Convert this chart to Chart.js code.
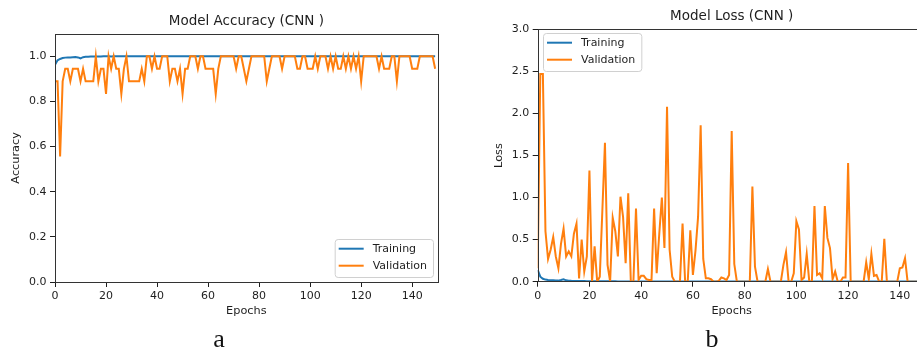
<!DOCTYPE html>
<html>
<head>
<meta charset="utf-8">
<title>CNN training curves</title>
<script src="https://cdn.jsdelivr.net/npm/chart.js@4.4.1/dist/chart.umd.min.js"></script>
<style>
  html, body { margin: 0; padding: 0; background: #fff; overflow: hidden; }
  body { width: 917px; height: 354px; position: relative; }
  canvas { position: absolute; top: 0; }
  #accChart { left: 0; }
  #lossChart { left: 460px; }
  .panel-tag {
    position: absolute; top: 326px; width: 40px; text-align: center;
    font: 26px "Liberation Serif", serif; line-height: 1; color: #111;
  }
</style>
</head>
<body>
<canvas id="accChart" width="460" height="354"></canvas>
<canvas id="lossChart" width="480" height="354"></canvas>
<div class="panel-tag" style="left:199px">a</div>
<div class="panel-tag" style="left:692px">b</div>
<script>
// --- history of the CNN run, one value per epoch ---
const epochs = Array.from({ length: 150 }, (_, i) => i);

const trainAcc = [
    0.962, 0.982, 0.988, 0.992, 0.994, 0.995, 0.995, 0.996, 0.997, 0.995,
    0.991, 0.996, 0.998, 0.998, 0.999, 0.999, 0.999, 0.999, 0.999, 1.0,
    1.0, 1.0, 0.999, 1.0, 1.0, 1.0, 1.0, 1.0, 1.0, 1.0,
    1.0, 1.0, 1.0, 1.0, 1.0, 1.0, 1.0, 1.0, 1.0, 1.0,
    1.0, 1.0, 1.0, 1.0, 1.0, 1.0, 1.0, 1.0, 1.0, 1.0,
    1.0, 1.0, 1.0, 1.0, 1.0, 1.0, 1.0, 1.0, 1.0, 1.0,
    1.0, 1.0, 1.0, 1.0, 1.0, 1.0, 1.0, 1.0, 1.0, 1.0,
    1.0, 1.0, 1.0, 1.0, 1.0, 1.0, 1.0, 1.0, 1.0, 1.0,
    1.0, 1.0, 1.0, 1.0, 1.0, 1.0, 1.0, 1.0, 1.0, 1.0,
    1.0, 1.0, 1.0, 1.0, 1.0, 1.0, 1.0, 1.0, 1.0, 1.0,
    1.0, 1.0, 1.0, 1.0, 1.0, 1.0, 1.0, 1.0, 1.0, 1.0,
    1.0, 1.0, 1.0, 1.0, 1.0, 1.0, 1.0, 1.0, 1.0, 1.0,
    1.0, 1.0, 1.0, 1.0, 1.0, 1.0, 1.0, 1.0, 1.0, 1.0,
    1.0, 1.0, 1.0, 1.0, 1.0, 1.0, 1.0, 1.0, 1.0, 1.0,
    1.0, 1.0, 1.0, 1.0, 1.0, 1.0, 1.0, 1.0, 1.0, 1.0
];

const valAcc = [
    0.8889, 0.8889, 0.5556, 0.8889, 0.9444, 0.9444, 0.8889, 0.9444, 0.9444, 0.9444,
    0.8889, 0.9444, 0.8889, 0.8889, 0.8889, 0.8889, 1.0, 0.8889, 0.9444, 0.9444,
    0.8333, 1.0, 0.9444, 1.0, 0.9444, 0.9444, 0.8333, 0.9444, 1.0, 0.8889,
    0.8889, 0.8889, 0.8889, 0.8889, 0.9444, 0.8889, 1.0, 1.0, 0.9444, 1.0,
    0.9444, 0.9444, 1.0, 1.0, 1.0, 0.8889, 0.9444, 0.9444, 0.8889, 0.9444,
    0.8333, 0.9444, 0.9444, 1.0, 1.0, 1.0, 0.9444, 1.0, 1.0, 0.9444,
    0.9444, 0.9444, 0.9444, 0.8333, 0.9444, 1.0, 1.0, 1.0, 1.0, 1.0,
    1.0, 0.9444, 1.0, 1.0, 0.9444, 0.8889, 0.9444, 1.0, 1.0, 1.0,
    1.0, 1.0, 1.0, 0.8889, 0.9444, 1.0, 1.0, 1.0, 1.0, 0.9444,
    1.0, 1.0, 1.0, 1.0, 1.0, 0.9444, 0.9444, 1.0, 1.0, 0.9444,
    0.9444, 0.9444, 1.0, 0.9444, 1.0, 1.0, 1.0, 0.9444, 1.0, 0.9444,
    1.0, 0.9444, 0.9444, 1.0, 0.9444, 1.0, 0.9444, 1.0, 0.9444, 1.0,
    0.8889, 1.0, 1.0, 1.0, 1.0, 1.0, 1.0, 0.9444, 1.0, 0.9444,
    0.9444, 0.9444, 1.0, 1.0, 0.8889, 1.0, 1.0, 1.0, 1.0, 1.0,
    0.9444, 0.9444, 0.9444, 1.0, 1.0, 1.0, 1.0, 1.0, 1.0, 0.9444
];

const trainLoss = [
    0.140, 0.060, 0.035, 0.025, 0.020, 0.018, 0.016, 0.014, 0.013, 0.020,
    0.028, 0.016, 0.012, 0.010, 0.009, 0.008, 0.008, 0.007, 0.007, 0.006,
    0.006, 0.006, 0.005, 0.005, 0.005, 0.005, 0.004, 0.004, 0.004, 0.004,
    0.004, 0.003, 0.003, 0.003, 0.003, 0.003, 0.003, 0.003, 0.003, 0.003,
    0.003, 0.003, 0.002, 0.002, 0.002, 0.002, 0.002, 0.002, 0.002, 0.002,
    0.002, 0.002, 0.002, 0.002, 0.002, 0.002, 0.002, 0.002, 0.002, 0.002,
    0.002, 0.002, 0.002, 0.002, 0.002, 0.002, 0.001, 0.001, 0.001, 0.001,
    0.001, 0.001, 0.001, 0.001, 0.001, 0.001, 0.001, 0.001, 0.001, 0.001,
    0.001, 0.001, 0.001, 0.001, 0.001, 0.001, 0.001, 0.001, 0.001, 0.001,
    0.001, 0.001, 0.001, 0.001, 0.001, 0.001, 0.001, 0.001, 0.001, 0.001,
    0.001, 0.001, 0.001, 0.001, 0.001, 0.001, 0.001, 0.001, 0.001, 0.001,
    0.001, 0.001, 0.001, 0.001, 0.001, 0.001, 0.001, 0.001, 0.001, 0.001,
    0.001, 0.001, 0.001, 0.001, 0.001, 0.001, 0.001, 0.001, 0.001, 0.001,
    0.001, 0.001, 0.001, 0.001, 0.001, 0.001, 0.001, 0.001, 0.001, 0.001,
    0.001, 0.001, 0.001, 0.001, 0.001, 0.001, 0.001, 0.001, 0.001, 0.001
];

const valLoss = [
    0.16, 2.47, 2.47, 0.60, 0.27, 0.38, 0.53, 0.30, 0.16, 0.45,
    0.63, 0.30, 0.36, 0.30, 0.57, 0.69, 0.04, 0.50, 0.12, 0.30,
    1.32, 0.00, 0.42, 0.00, 0.06, 0.85, 1.65, 0.20, 0.00, 0.76,
    0.60, 0.30, 1.01, 0.77, 0.22, 1.05, 0.00, 0.00, 0.87, 0.02,
    0.07, 0.07, 0.03, 0.02, 0.02, 0.87, 0.10, 0.57, 1.00, 0.40,
    2.08, 0.38, 0.06, 0.00, 0.00, 0.00, 0.69, 0.00, 0.00, 0.61,
    0.08, 0.37, 0.77, 1.86, 0.27, 0.04, 0.04, 0.03, 0.00, 0.00,
    0.01, 0.05, 0.04, 0.02, 0.08, 1.79, 0.21, 0.00, 0.00, 0.00,
    0.00, 0.00, 0.00, 1.13, 0.18, 0.00, 0.00, 0.00, 0.00, 0.15,
    0.00, 0.00, 0.00, 0.00, 0.00, 0.20, 0.35, 0.00, 0.00, 0.10,
    0.72, 0.62, 0.02, 0.05, 0.33, 0.00, 0.00, 0.90, 0.08, 0.10,
    0.04, 0.90, 0.52, 0.40, 0.03, 0.12, 0.00, 0.00, 0.05, 0.05,
    1.41, 0.00, 0.00, 0.00, 0.00, 0.00, 0.00, 0.23, 0.03, 0.33,
    0.07, 0.08, 0.00, 0.00, 0.51, 0.00, 0.00, 0.00, 0.00, 0.00,
    0.16, 0.17, 0.28, 0.00, 0.00, 0.00, 0.00, 0.00, 0.00, 0.00
];

const epochTicks = [0, 20, 40, 60, 80, 100, 120, 140];
const accTicks = [0.0, 0.2, 0.4, 0.6, 0.8, 1.0];
const lossTicks = [0.0, 0.5, 1.0, 1.5, 2.0, 2.5, 3.0];

const BLUE = '#1f77b4';
const ORANGE = '#ff7f0e';
const INK = '#1e1e1e';
const FONT = '"DejaVu Sans", sans-serif';

// box around the plot area (all four spines)
const framePlugin = {
    id: 'frame',
    afterDatasetsDraw(chart) {
        const { ctx, chartArea: a } = chart;
        ctx.save();
        ctx.strokeStyle = '#333';
        ctx.lineWidth = 1;
        ctx.strokeRect(Math.round(a.left) + 0.5, Math.round(a.top) + 0.5,
            Math.round(a.right - a.left), Math.round(a.bottom - a.top));
        ctx.restore();
    }
};

// legend drawn inside the plot, in a corner
const cornerLegend = {
    id: 'cornerLegend',
    afterDraw(chart, args, opts) {
        const { ctx, chartArea: a } = chart;
        const sets = chart.data.datasets;
        ctx.save();
        ctx.font = '11px ' + FONT;
        const textW = Math.max(...sets.map(d => ctx.measureText(d.label).width));
        const w = 4 + 25 + 9 + textW + 6;
        const h = 38;
        const x = opts.corner === 'lower right' ? a.right - 4.7 - w : a.left + 5.3;
        const y = opts.corner === 'lower right' ? a.bottom - 5 - h : a.top + 3.7;

        ctx.beginPath();
        ctx.roundRect(x + 0.5, y + 0.5, w, h, 3);
        ctx.fillStyle = 'rgba(255,255,255,0.8)';
        ctx.fill();
        ctx.strokeStyle = '#d0d0d0';
        ctx.lineWidth = 1;
        ctx.stroke();

        sets.forEach((d, i) => {
            const rowY = y + 9.7 + i * 17;
            ctx.beginPath();
            ctx.moveTo(x + 4, rowY);
            ctx.lineTo(x + 29, rowY);
            ctx.strokeStyle = d.borderColor;
            ctx.lineWidth = 2;
            ctx.stroke();
            ctx.fillStyle = INK;
            ctx.textBaseline = 'middle';
            ctx.fillText(d.label, x + 38, rowY + 0.5);
        });
        ctx.restore();
    }
};

function series(values) {
    return values.map((v, i) => ({ x: epochs[i], y: v }));
}

function buildChart(id, cfg) {
    const ctx = document.getElementById(id);
    return new Chart(ctx, {
        type: 'line',
        data: {
            datasets: [
                { label: 'Training', data: series(cfg.train), borderColor: BLUE, order: 1 },
                { label: 'Validation', data: series(cfg.val), borderColor: ORANGE, order: 0 }
            ]
        },
        options: {
            responsive: false,
            animation: false,
            devicePixelRatio: 1,
            layout: { padding: { left: 0, right: cfg.padRight, top: 0, bottom: 0 } },
            elements: {
                line: { borderWidth: 2, tension: 0, fill: false },
                point: { radius: 0 }
            },
            scales: {
                x: {
                    type: 'linear',
                    min: 0,
                    max: 150,
                    afterBuildTicks: s => { s.ticks = epochTicks.map(v => ({ value: v })); },
                    afterFit: s => { s.height = cfg.xAxisHeight; },
                    grid: { drawOnChartArea: false, drawTicks: true, tickLength: 5, color: INK },
                    border: { display: false },
                    ticks: { color: INK, padding: 3, maxRotation: 0, font: { family: FONT, size: 11 } },
                    title: {
                        display: true,
                        text: 'Epochs',
                        color: INK,
                        font: { family: FONT, size: 11.3 },
                        padding: { top: 0, bottom: cfg.xTitlePad }
                    }
                },
                y: {
                    min: 0,
                    max: cfg.yMax,
                    afterBuildTicks: s => { s.ticks = cfg.yTicks.map(v => ({ value: v })); },
                    afterFit: s => { s.width = cfg.yAxisWidth; },
                    grid: { drawOnChartArea: false, drawTicks: true, tickLength: 5, color: INK },
                    border: { display: false },
                    ticks: {
                        color: INK,
                        padding: 3.5,
                        font: { family: FONT, size: 11 },
                        callback: v => Number(v).toFixed(1)
                    },
                    title: {
                        display: true,
                        text: cfg.yLabel,
                        color: INK,
                        font: { family: FONT, size: 11.3 },
                        padding: { top: cfg.yTitlePad, bottom: 0 }
                    }
                }
            },
            plugins: {
                legend: { display: false },
                tooltip: { enabled: false },
                title: {
                    display: true,
                    text: cfg.title,
                    fullSize: false,
                    color: INK,
                    font: { family: FONT, size: 13.5, weight: 'normal' },
                    padding: cfg.titlePad
                },
                cornerLegend: { corner: cfg.legendCorner }
            }
        },
        plugins: [framePlugin, cornerLegend]
    });
}

buildChart('accChart', {
    title: 'Model Accuracy (CNN )',
    yLabel: 'Accuracy',
    train: trainAcc,
    val: valAcc,
    yMax: 1.1,
    yTicks: accTicks,
    padRight: 22.3,
    yAxisWidth: 55,
    xAxisHeight: 72,
    xTitlePad: 36.2,
    yTitlePad: 9.2,
    titlePad: { top: 13.6, bottom: 3.9 },
    legendCorner: 'lower right'
});

buildChart('lossChart', {
    title: 'Model Loss (CNN )',
    yLabel: 'Loss',
    train: trainLoss,
    val: valLoss,
    yMax: 3.0,
    yTicks: lossTicks,
    padRight: 14.3,
    yAxisWidth: 77.7,
    xAxisHeight: 72.3,
    xTitlePad: 36.5,
    yTitlePad: 32.2,
    titlePad: { top: 8.6, bottom: 4.5 },
    legendCorner: 'upper left'
});
</script>
</body>
</html>
